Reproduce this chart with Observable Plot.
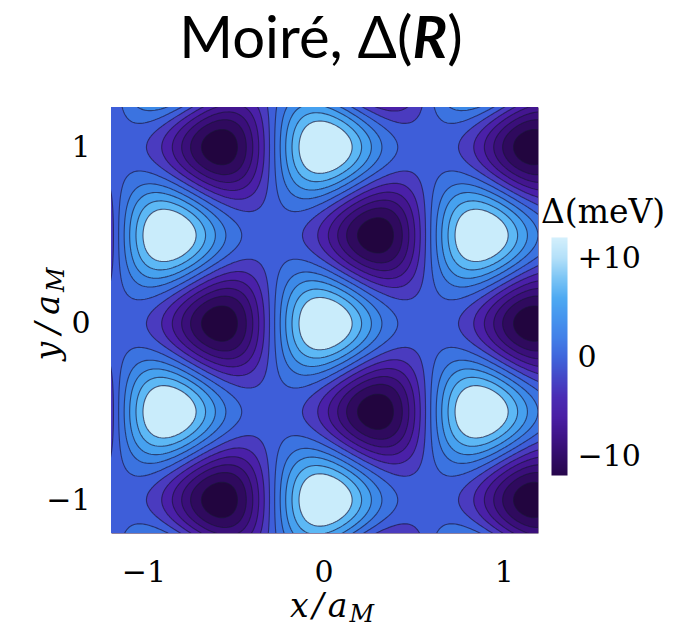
<!DOCTYPE html>
<html>
<head>
<meta charset="utf-8">
<script src="https://cdn.jsdelivr.net/npm/d3@7"></script>
<script src="https://cdn.jsdelivr.net/npm/@observablehq/plot@0.6"></script>
<style>
  body { margin: 0; background: #fff; }
  #wrap { position: relative; width: 697px; height: 629px; overflow: hidden; }
  #main, #cbar, #labels { position: absolute; }
  #main { left: 0; top: 0; }
  #cbar { left: 530px; top: 217px; }
  #labels { left: 0; top: 0; pointer-events: none; }
</style>
</head>
<body>
<div id="wrap">
  <div id="main"></div>
  <div id="cbar"></div>
  <svg id="labels" width="697" height="629" font-family="DejaVu Serif">
    <text x="321" y="58" text-anchor="middle" font-family="Lato" font-size="58">Moiré, Δ(<tspan font-weight="bold" font-style="italic">R</tspan>)</text>
    <text x="541" y="223" font-size="33">Δ(meV)</text>
    <text x="332" y="617" text-anchor="middle" font-size="33" font-style="italic">x<tspan dx="4">/</tspan><tspan dx="4">a</tspan><tspan font-size="24" dx="2" dy="5">M</tspan></text>
    <text transform="translate(59,314) rotate(-90)" text-anchor="middle" font-size="33" font-style="italic">y<tspan dx="8">/</tspan><tspan dx="8">a</tspan><tspan font-size="24" dx="3" dy="5">M</tspan></text>
  </svg>
</div>
<script>
// Moiré potential Δ(R) = 2V Σ_j cos(G_j·R + ψ), j over three reciprocal vectors
const amplitudeV = [2.4];               // V (meV)
const phasePsi = [30];                  // ψ (degrees)
const reciprocalAngles = [0, 120, 240]; // directions of G_j (degrees), |G| = 4π/(√3 a_M)

// filled contour levels (meV) and tick values
const levels = [-10.9, -8.9, -7.0, -5.0, -3.0, -1.0, 1.0, 3.1, 5.1, 7.2, 9.2];
const xTicks = [-1, 0, 1];
const yTicks = [-1, 0, 1];
const cbarTicks = [10, 0, -10];
const cbarRange = [-11.9, 12.1];

// fill below the lowest level, then one colour per level band
const baseColor = "#22053f";
const bandColors = ["#2f0a5e", "#3a0f7a", "#43168f", "#4a20a8", "#4a3bbf", "#3e5ed9",
  "#3b73e0", "#3c89e7", "#46a1ef", "#5cb8f5", "#c9ecfb"];

// continuous colour bar stops (meV -> colour)
const stopValues = [-12, -10, -8, -6, -4, -2, 0, 2, 4, 6, 8, 10, 12];
const stopColors = ["#26064a", "#320c68", "#3f1488", "#4a1fa5", "#4a2cb5", "#4448c8", "#3f65dc",
  "#4280e8", "#4595ee", "#4eaaf2", "#7cc5f5", "#b3e0f9", "#d2effc"];

const G = 4 * Math.PI / Math.sqrt(3);
const gVecs = reciprocalAngles.map((a) => [G * Math.cos(a * Math.PI / 180), G * Math.sin(a * Math.PI / 180)]);
const psi = phasePsi[0] * Math.PI / 180;
const delta = (x, y) => 2 * amplitudeV[0] * d3.sum(gVecs, ([gx, gy]) => Math.cos(gx * x + gy * y + psi));

const signed = (d) => d > 0 ? "+" + d : d < 0 ? "\u2212" + Math.abs(d) : "0";
const plain = (d) => d < 0 ? "\u2212" + Math.abs(d) : String(d);

const main = Plot.plot({
  width: 560,
  height: 629,
  marginLeft: 111,
  marginRight: 22,
  marginTop: 107,
  marginBottom: 96,
  style: { fontFamily: "DejaVu Serif", background: "transparent" },
  x: { domain: [-1.18, 1.19], label: null },
  y: { domain: [-1.19, 1.225], label: null },
  color: { type: "ordinal", domain: levels, range: bandColors },
  marks: [
    Plot.frame({ fill: baseColor }),
    Plot.contour({
      fill: delta,
      x1: -1.5, x2: 1.5, y1: -1.5, y2: 1.5,
      thresholds: levels,
      stroke: "#1a1538",
      strokeOpacity: 0.65,
      strokeWidth: 1.1,
      clip: true
    }),
    Plot.axisX(xTicks, { tickSize: 0, tickPadding: 27, fontSize: 30, tickFormat: plain, label: null }),
    Plot.axisY(yTicks, { tickSize: 0, tickPadding: 21, fontSize: 30, tickFormat: plain, label: null })
  ]
});
document.getElementById("main").appendChild(main);

const cbar = Plot.plot({
  width: 117,
  height: 278,
  marginLeft: 21,
  marginRight: 80,
  marginTop: 20,
  marginBottom: 20,
  style: { fontFamily: "DejaVu Serif", background: "transparent" },
  x: { domain: [0, 1], axis: null },
  y: { domain: cbarRange, label: null },
  color: { type: "linear", domain: stopValues, range: stopColors },
  marks: [
    Plot.raster({ fill: (x, y) => y, x1: 0, x2: 1, y1: cbarRange[0], y2: cbarRange[1], pixelSize: 1 }),
    Plot.axisY(cbarTicks, { anchor: "right", tickSize: 0, tickPadding: 10, fontSize: 30, tickFormat: signed, label: null })
  ]
});
document.getElementById("cbar").appendChild(cbar);
</script>
</body>
</html>
